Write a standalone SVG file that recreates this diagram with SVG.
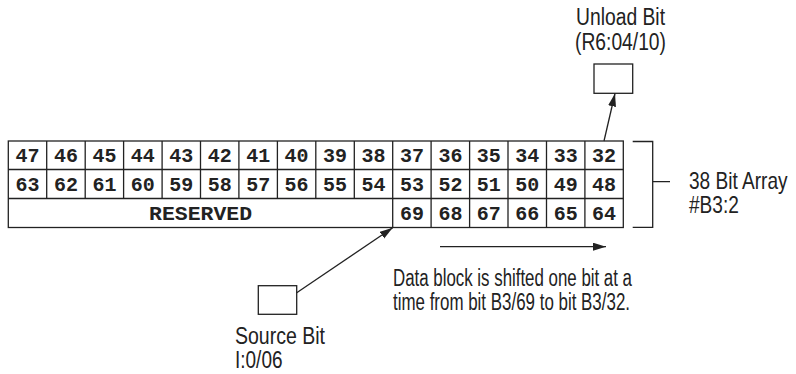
<svg xmlns="http://www.w3.org/2000/svg" width="796" height="374" viewBox="0 0 796 374">
<style>
.ln{fill:none;stroke:#222;stroke-width:1.3}
.bx{fill:#fff;stroke:#222;stroke-width:1.3}
.num{font-family:"Liberation Mono","Courier New",monospace;font-weight:bold;font-size:20px;fill:#222;text-anchor:middle}
.lbl{font-family:"Liberation Sans","Arial",sans-serif;font-size:23px;fill:#222}
</style>
<defs>
<marker id="ah" markerUnits="userSpaceOnUse" markerWidth="14" markerHeight="10" refX="13" refY="4" orient="auto">
<path d="M0,0 L13,4 L0,8 Z" fill="#222"/>
</marker>
</defs>
<rect width="796" height="374" fill="#fff"/>

<g id="array">
<rect class="bx" x="8.3" y="141" width="615" height="86.5"/>
<path class="ln" d="M8.3,169.5H623.3M8.3,198.5H623.3"/>
<path class="ln" d="M46.7,141V198.5M85.2,141V198.5M123.6,141V198.5M162.1,141V198.5M200.5,141V198.5M238.9,141V198.5M277.4,141V198.5M315.8,141V198.5M354.3,141V198.5M392.7,141V227.5M431.1,141V227.5M469.6,141V227.5M508,141V227.5M546.5,141V227.5M584.9,141V227.5"/>
<g class="num">
<text x="27.5" y="161.5">47</text><text x="66" y="161.5">46</text><text x="104.4" y="161.5">45</text><text x="142.8" y="161.5">44</text><text x="181.3" y="161.5">43</text><text x="219.7" y="161.5">42</text><text x="258.2" y="161.5">41</text><text x="296.6" y="161.5">40</text><text x="335" y="161.5">39</text><text x="373.5" y="161.5">38</text><text x="411.9" y="161.5">37</text><text x="450.4" y="161.5">36</text><text x="488.8" y="161.5">35</text><text x="527.2" y="161.5">34</text><text x="565.7" y="161.5">33</text><text x="604.1" y="161.5">32</text>
<text x="27.5" y="190.5">63</text><text x="66" y="190.5">62</text><text x="104.4" y="190.5">61</text><text x="142.8" y="190.5">60</text><text x="181.3" y="190.5">59</text><text x="219.7" y="190.5">58</text><text x="258.2" y="190.5">57</text><text x="296.6" y="190.5">56</text><text x="335" y="190.5">55</text><text x="373.5" y="190.5">54</text><text x="411.9" y="190.5">53</text><text x="450.4" y="190.5">52</text><text x="488.8" y="190.5">51</text><text x="527.2" y="190.5">50</text><text x="565.7" y="190.5">49</text><text x="604.1" y="190.5">48</text>
<text x="200.5" y="219.5" textLength="103" lengthAdjust="spacingAndGlyphs">RESERVED</text>
<text x="411.9" y="219.5">69</text><text x="450.4" y="219.5">68</text><text x="488.8" y="219.5">67</text><text x="527.2" y="219.5">66</text><text x="565.7" y="219.5">65</text><text x="604.1" y="219.5">64</text>
</g>
</g>

<g id="bracket">
<path class="ln" d="M632.7,141.5H652.7V227.3H632.7M652.7,181.7H670"/>
<text class="lbl" transform="translate(689,189) scale(0.83,1)">38 Bit Array</text>
<text class="lbl" transform="translate(689,213) scale(0.83,1)">#B3:2</text>
</g>

<g id="unload">
<rect class="bx" x="594" y="64" width="38.7" height="29.3"/>
<text class="lbl" x="576" y="25" textLength="89" lengthAdjust="spacingAndGlyphs">Unload Bit</text>
<text class="lbl" x="575" y="50" textLength="91" lengthAdjust="spacingAndGlyphs">(R6:04/10)</text>
</g>

<g id="source">
<rect class="bx" x="258.3" y="285.7" width="38.4" height="28.6"/>
<text class="lbl" x="235" y="344" textLength="90" lengthAdjust="spacingAndGlyphs">Source Bit</text>
<text class="lbl" x="235" y="368" textLength="47.5" lengthAdjust="spacingAndGlyphs">I:0/06</text>
</g>

<g id="shift-note">
<text class="lbl" x="393" y="286" textLength="239" lengthAdjust="spacingAndGlyphs">Data block is shifted one bit at a</text>
<text class="lbl" x="393" y="310" textLength="237" lengthAdjust="spacingAndGlyphs">time from bit B3/69 to bit B3/32.</text>
</g>

<g id="connectors">
<line class="ln" x1="296.7" y1="292.7" x2="392.7" y2="227.8" marker-end="url(#ah)"/>
<line class="ln" x1="440" y1="246.7" x2="606" y2="246.7" marker-end="url(#ah)"/>
<line class="ln" x1="604" y1="141" x2="615" y2="93.5" marker-end="url(#ah)"/>
</g>
</svg>
